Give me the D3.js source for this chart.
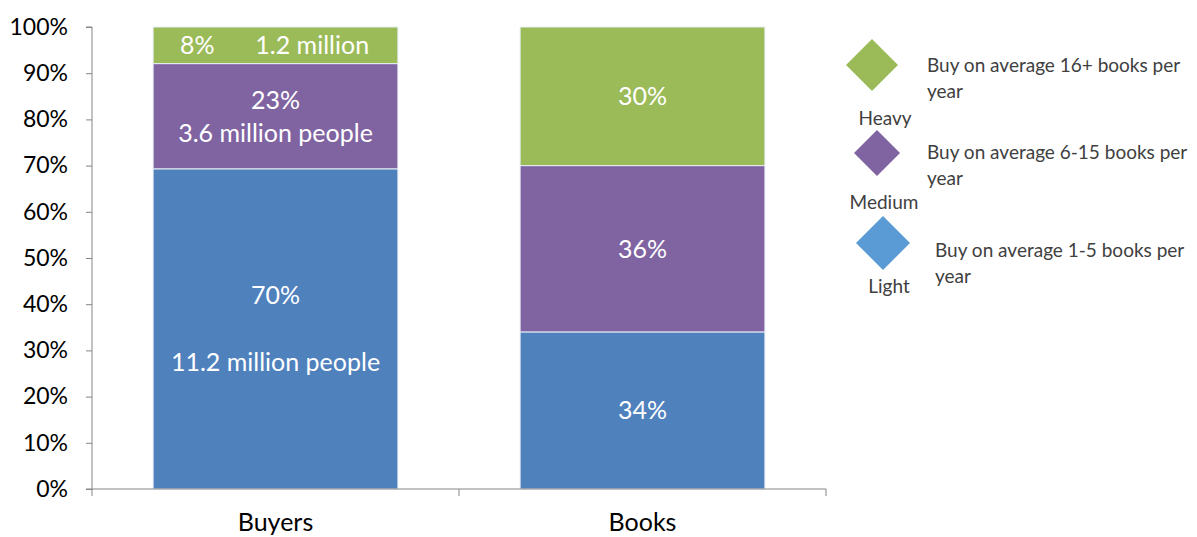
<!DOCTYPE html>
<html>
<head>
<meta charset="utf-8">
<script src="https://cdn.jsdelivr.net/npm/d3@7"></script>
<style>
  html, body { margin: 0; padding: 0; background: #fff; }
  svg { display: block; font-family: Lato, "Open Sans", sans-serif; }
</style>
</head>
<body>
<svg id="chart" width="1197" height="537"></svg>
<script>
// Categories and segment values (percent of each bar)
const categories = ["Buyers", "Books"];
const segments = ["Light", "Medium", "Heavy"];
const lightValues = [70, 34];
const mediumValues = [23, 36];
const heavyValues = [8, 30];
const yTicks = [0, 10, 20, 30, 40, 50, 60, 70, 80, 90, 100];

// Text shown inside each segment (lines), per category
const lightLabels = [["70%", "11.2 million people"], ["34%"]];
const mediumLabels = [["23%", "3.6 million people"], ["36%"]];
const heavyLabels = [["8%", "1.2 million"], ["30%"]];

// Legend entries
const legendNames = ["Heavy", "Medium", "Light"];
const legendDescs = [
  ["Buy on average 16+ books per", "year"],
  ["Buy on average 6-15 books per", "year"],
  ["Buy on average 1-5 books per", "year"]
];

const barColors = { Light: "#4F81BD", Medium: "#8064A2", Heavy: "#9BBB59" };
const legendColors = ["#9BBB59", "#8064A2", "#5B9BD5"];

const svg = d3.select("#chart");
const margin = { left: 92, top: 27, right: 371, bottom: 48 };
const W = 1197, H = 537;
const plotW = W - margin.left - margin.right;
const plotH = H - margin.top - margin.bottom;

const g = svg.append("g").attr("transform", `translate(${margin.left},${margin.top})`);

const x = d3.scaleBand().domain(categories).range([0, plotW]).paddingInner(0.333).paddingOuter(0.1665);
const y = d3.scaleLinear().domain([0, 1]).range([plotH, 0]);

// 100% stacked: normalise each bar to its total
const rows = categories.map((c, i) => {
  const total = lightValues[i] + mediumValues[i] + heavyValues[i];
  return { category: c, Light: lightValues[i] / total, Medium: mediumValues[i] / total, Heavy: heavyValues[i] / total };
});
const labelsBy = { Light: lightLabels, Medium: mediumLabels, Heavy: heavyLabels };

const stack = d3.stack().keys(segments)(rows);

const layers = g.selectAll("g.layer").data(stack).join("g").attr("class", "layer")
  .attr("fill", d => barColors[d.key]);

layers.selectAll("rect").data(d => d).join("rect")
  .attr("x", d => x(d.data.category))
  .attr("width", x.bandwidth())
  .attr("y", d => y(d[1]))
  .attr("height", d => y(d[0]) - y(d[1]))
  .attr("stroke", "#e8eef6")
  .attr("stroke-width", 1);

// Segment labels
const labelSize = 25;
stack.forEach(layer => {
  layer.forEach((d, i) => {
    const lines = labelsBy[layer.key][i];
    const x0 = x(d.data.category), bw = x.bandwidth();
    const cy = (y(d[0]) + y(d[1])) / 2;
    const t = g.append("g").attr("fill", "#fff").attr("font-size", labelSize).attr("text-anchor", "middle");
    if (layer.key === "Heavy" && lines.length === 2) {
      // two labels side by side in the thin top segment
      t.append("text").attr("x", x0 + bw * 0.18).attr("y", cy).attr("dy", "0.36em").text(lines[0]);
      t.append("text").attr("x", x0 + bw * 0.65).attr("y", cy).attr("dy", "0.36em").text(lines[1]);
    } else if (lines.length === 2) {
      const gap = layer.key === "Light" ? 67 : 33;
      t.append("text").attr("x", x0 + bw / 2).attr("y", cy - gap / 2).attr("dy", "0.36em").text(lines[0]);
      t.append("text").attr("x", x0 + bw / 2).attr("y", cy + gap / 2).attr("dy", "0.36em").text(lines[1]);
    } else {
      t.append("text").attr("x", x0 + bw / 2).attr("y", cy).attr("dy", "0.36em").text(lines[0]);
    }
  });
});

// Y axis
const yAxis = d3.axisLeft(y).tickValues(yTicks.map(v => v / 100)).tickFormat(d => Math.round(d * 100) + "%").tickSize(6).tickPadding(18);
const ya = g.append("g").call(yAxis);
ya.select(".domain").attr("stroke", "#868686").attr("d", `M-6,${plotH}H0V0H-6`);
ya.selectAll(".tick line").attr("stroke", "#868686");
ya.selectAll(".tick text").attr("font-size", 23).attr("fill", "#000").attr("font-family", "Lato, sans-serif");

// X axis with boundary tick marks
const xa = g.append("g").attr("transform", `translate(0,${plotH})`);
xa.append("path").attr("d", `M0,0H${plotW}`).attr("stroke", "#868686").attr("fill", "none");
const boundaries = [0, ...categories.map(c => x(c) + x.bandwidth() + x.step() * x.paddingInner() / 2)];
boundaries[boundaries.length - 1] = plotW;
xa.selectAll("line.b").data(boundaries).join("line").attr("class", "b")
  .attr("x1", d => d).attr("x2", d => d).attr("y1", 0).attr("y2", 7).attr("stroke", "#868686");
xa.selectAll("text.cat").data(categories).join("text").attr("class", "cat")
  .attr("x", d => x(d) + x.bandwidth() / 2).attr("y", 33)
  .attr("dy", "0.36em").attr("text-anchor", "middle").attr("font-size", 25).attr("fill", "#000")
  .text(d => d);

// Legend
const legendPos = [
  { cx: 872, cy: 65, r: 26, tx: 927, ty: 65, nx: 885, ny: 118 },
  { cx: 877, cy: 153, r: 23, tx: 927, ty: 152, nx: 884, ny: 202 },
  { cx: 883, cy: 243, r: 27, tx: 935, ty: 250, nx: 889, ny: 286 }
];
const leg = svg.append("g").attr("fill", "#404040").attr("font-size", 19);
legendNames.forEach((name, i) => {
  const p = legendPos[i];
  leg.append("path")
    .attr("d", d3.symbol().type(d3.symbolSquare).size((p.r * Math.SQRT2) ** 2)())
    .attr("transform", `translate(${p.cx},${p.cy}) rotate(45)`)
    .attr("fill", legendColors[i]);
  legendDescs[i].forEach((line, j) => {
    leg.append("text").attr("x", p.tx).attr("y", p.ty + j * 26).attr("dy", "0.36em").text(line);
  });
  leg.append("text").attr("x", p.nx).attr("y", p.ny).attr("dy", "0.36em").attr("text-anchor", "middle").text(name);
});
</script>
</body>
</html>
